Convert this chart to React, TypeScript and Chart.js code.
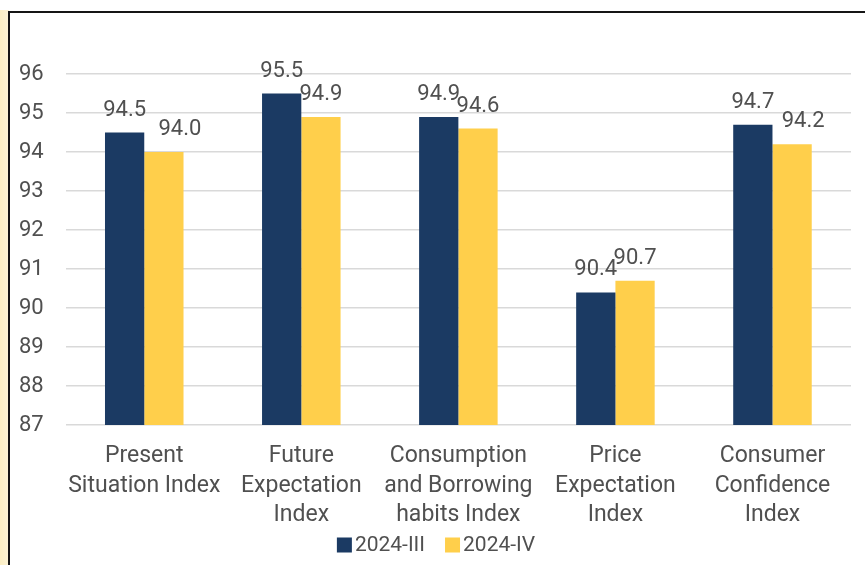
import React, { useEffect, useRef } from "react";
import { Chart, registerables } from "chart.js";

Chart.register(...registerables);

const categories: string[][] = [
  ["Present", "Situation Index"],
  ["Future", "Expectation", "Index"],
  ["Consumption", "and Borrowing", "habits Index"],
  ["Price", "Expectation", "Index"],
  ["Consumer", "Confidence", "Index"],
];
const seriesNames = ["2024-III", "2024-IV"];
const q3Values = [94.5, 95.5, 94.9, 90.4, 94.7];
const q4Values = [94.0, 94.9, 94.6, 90.7, 94.2];
const yMin = 87;
const yMax = 96;

const NAVY = "#1B3A63";
const YELLOW = "#FFCF4B";
const TEXT = "#505050";
const FONT = "Roboto, 'Noto Sans', sans-serif";

const dataLabelPlugin = {
  id: "dataLabels",
  afterDatasetsDraw(chart: any, _args: any, opts: any) {
    const ctx = chart.ctx;
    ctx.save();
    ctx.font = `${opts.size}px ${FONT}`;
    ctx.fillStyle = TEXT;
    ctx.textAlign = "center";
    ctx.textBaseline = "alphabetic";
    chart.data.datasets.forEach((ds: any, di: number) => {
      const meta = chart.getDatasetMeta(di);
      meta.data.forEach((el: any, i: number) => {
        const v = ds.data[i];
        const shift = (opts.shiftX && opts.shiftX[di] && opts.shiftX[di][i]) || 0;
        ctx.fillText(Number(v).toFixed(1), el.x + shift, el.y - opts.offset);
      });
    });
    ctx.restore();
  },
};

const customLegendPlugin = {
  id: "customLegend",
  afterDraw(chart: any, _args: any, opts: any) {
    const ctx = chart.ctx;
    ctx.save();
    ctx.font = `${opts.size}px ${FONT}`;
    ctx.textBaseline = "middle";
    ctx.textAlign = "left";
    const items = chart.data.datasets.map((ds: any) => ({
      text: ds.label,
      color: ds.backgroundColor,
      w: ctx.measureText(ds.label).width,
    }));
    const total = items.reduce(
      (acc: number, it: any, i: number) => acc + opts.box + opts.gap + it.w + (i > 0 ? opts.spacing : 0),
      0
    );
    let x = opts.centerX - total / 2;
    const y = opts.y;
    items.forEach((it: any) => {
      ctx.fillStyle = it.color;
      ctx.fillRect(x, y - opts.box / 2, opts.box, opts.box);
      x += opts.box + opts.gap;
      ctx.fillStyle = TEXT;
      ctx.fillText(it.text, x, y + 1);
      x += it.w + opts.spacing;
    });
    ctx.restore();
  },
};

export default function App() {
  const ref = useRef<HTMLCanvasElement>(null);
  useEffect(() => {
    if (!ref.current) return;
    const chart = new Chart(ref.current, {
      type: "bar",
      data: {
        labels: categories,
        datasets: [
          {
            label: seriesNames[0],
            data: q3Values,
            backgroundColor: NAVY,
            borderWidth: 0,
            barPercentage: 1,
            categoryPercentage: 0.5,
          },
          {
            label: seriesNames[1],
            data: q4Values,
            backgroundColor: YELLOW,
            borderWidth: 0,
            barPercentage: 1,
            categoryPercentage: 0.5,
          },
        ],
      },
      options: {
        responsive: false,
        animation: false,
        devicePixelRatio: 1,
        layout: { padding: { left: 19, right: 14, top: 74, bottom: 0 } },
        scales: {
          x: {
            grid: { display: false, drawTicks: false },
            border: { display: false },
            ticks: {
              color: TEXT,
              font: { family: FONT, size: 23, lineHeight: 1.28 },
              padding: 17,
              maxRotation: 0,
              autoSkip: false,
            },
            afterFit: (s: any) => {
              s.height = 140;
            },
          },
          y: {
            min: yMin,
            max: yMax,
            grid: { color: "#D9D9D9", lineWidth: 1.5, drawTicks: false },
            border: { display: false },
            ticks: {
              stepSize: 1,
              color: TEXT,
              font: { family: FONT, size: 22 },
              padding: 22,
            },
          },
        },
        plugins: {
          legend: { display: false },
          tooltip: { enabled: false },
          dataLabels: { size: 22, offset: 17, shiftX: [[0, 0, 0, 0, 0], [16, 0, 0, 0, 11]] },
          customLegend: { size: 21, box: 15, gap: 3, spacing: 20, centerX: 458, y: 545 },
        } as any,
      },
      plugins: [dataLabelPlugin, customLegendPlugin],
    });
    return () => chart.destroy();
  }, []);

  return (
    <div style={{ position: "fixed", left: 0, top: 0, width: 865, height: 565, background: "#fff", overflow: "hidden" }}>
      <div style={{ position: "absolute", left: 0, top: 10, width: 9, bottom: 0, background: "linear-gradient(90deg, #FCEFC4, #FDF3D6)" }} />
      <div style={{ position: "absolute", left: 8, top: 11, width: 900, height: 600, border: "2px solid #151515", background: "#fff" }} />
      <canvas ref={ref} width={887} height={565} style={{ position: "absolute", left: -22, top: 0, width: 887, height: 565 }} />
    </div>
  );
}
